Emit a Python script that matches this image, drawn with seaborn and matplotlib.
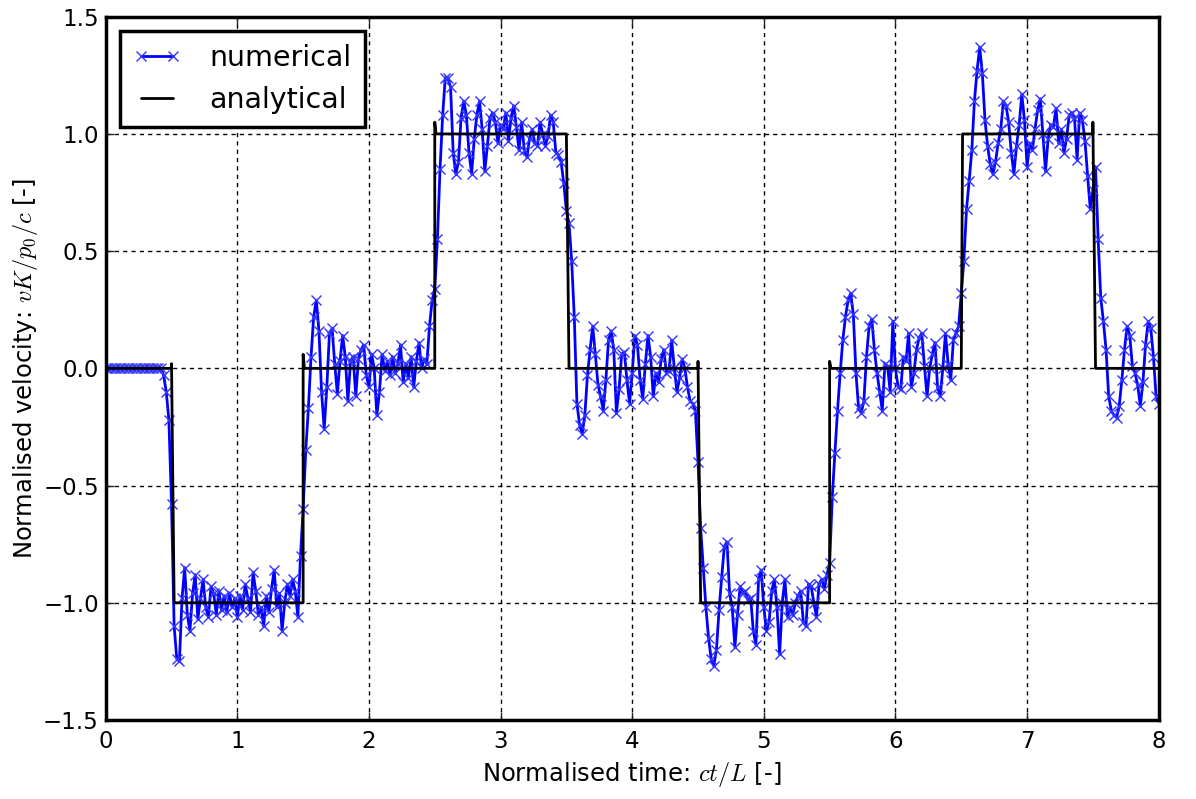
import numpy as np
from matplotlib import pyplot as plt
import seaborn as sns

sns.set_style("ticks")
plt.rcParams["font.family"] = "DejaVu Sans"
plt.rcParams["mathtext.fontset"] = "cm"

# numerical velocity, sampled every 0.02 in ct/L, one list per unit of time
dt = 0.02
vel_0 = [0.0] * 22 + [
    -0.03, -0.10, -0.22, -0.58, -1.10, -1.24, -1.25, -0.98, -0.85, -1.05,
    -1.12, -0.96, -0.88, -1.07, -0.98, -0.90, -1.02, -1.06, -0.93, -0.96,
    -1.05, -0.95, -1.03, -0.97, -1.04, -0.96, -1.02, -0.98,
]
vel_1 = [
    -1.06, -0.97, -1.03, -0.92, -0.98, -1.04, -0.87, -0.95, -1.05, -1.02,
    -1.10, -0.97, -1.04, -0.94, -0.86, -1.02, -0.96, -1.12, -1.00, -0.92,
    -0.97, -0.90, -0.95, -1.06, -0.80, -0.60, -0.35, -0.17, 0.05, 0.22,
    0.29, 0.16, -0.10, -0.26, -0.08, 0.15, 0.17, 0.02, -0.11, 0.03,
    0.14, 0.05, -0.14, 0.03, 0.05, -0.12, 0.04, 0.08, 0.10, -0.03,
]
vel_2 = [
    -0.08, 0.06, 0.00, -0.20, -0.10, 0.06, -0.01, 0.03, -0.03, 0.05,
    -0.02, 0.02, 0.10, -0.06, 0.02, -0.04, 0.05, -0.08, 0.03, 0.11,
    0.00, 0.04, 0.02, 0.18, 0.29, 0.34, 0.55, 0.85, 1.08, 1.24,
    1.24, 1.20, 0.92, 0.83, 0.88, 1.07, 1.14, 1.08, 0.92, 0.83,
    0.98, 1.08, 1.14, 1.02, 0.84, 0.95, 1.07, 1.09, 1.05, 0.96,
]
vel_3 = [
    1.04, 1.02, 1.09, 0.97, 1.07, 1.12, 1.03, 0.93, 1.05, 0.93,
    0.90, 0.98, 1.02, 0.96, 0.95, 1.05, 1.00, 0.95, 0.99, 1.08,
    1.05, 0.92, 0.91, 0.88, 0.79, 0.67, 0.62, 0.46, 0.22, -0.15,
    -0.24, -0.28, -0.20, -0.03, 0.08, 0.18, 0.06, -0.07, -0.12, -0.18,
    -0.05, 0.12, 0.16, 0.08, -0.19, -0.09, 0.06, 0.07, -0.05, -0.15,
]
vel_4 = [
    -0.02, 0.14, 0.10, -0.05, -0.13, 0.02, 0.14, 0.05, -0.12, -0.02,
    -0.06, 0.04, 0.08, -0.02, -0.01, 0.12, 0.00, -0.10, -0.04, 0.04,
    0.00, -0.08, -0.14, -0.15, -0.18, -0.40, -0.68, -0.85, -1.02, -1.15,
    -1.24, -1.27, -1.20, -1.03, -0.89, -0.76, -0.74, -0.96, -1.02, -1.19,
    -1.05, -0.93, -0.96, -0.95, -0.99, -0.98, -1.12, -1.18, -0.90, -0.86,
]
vel_5 = [
    -1.02, -1.12, -1.08, -0.95, -0.90, -1.02, -1.22, -1.00, -0.90, -1.06,
    -1.02, -1.05, -1.00, -0.97, -0.95, -1.08, -1.10, -0.92, -0.93, -1.00,
    -1.06, -0.92, -0.90, -0.94, -0.88, -0.83, -0.55, -0.36, -0.18, -0.02,
    0.12, 0.22, 0.29, 0.32, 0.23, -0.02, -0.17, -0.19, -0.14, 0.05,
    0.18, 0.21, 0.08, -0.02, -0.10, -0.18, 0.02, 0.01, -0.10, 0.20,
]
vel_6 = [
    0.00, -0.08, -0.09, 0.05, 0.03, 0.15, -0.08, -0.02, 0.08, 0.13,
    0.15, 0.01, -0.12, 0.00, 0.06, 0.11, -0.08, -0.12, 0.00, 0.15,
    0.02, -0.05, 0.12, 0.15, 0.18, 0.32, 0.46, 0.68, 0.80, 0.93,
    1.14, 1.27, 1.37, 1.26, 1.06, 0.95, 0.87, 0.83, 0.88, 0.96,
    1.02, 1.14, 1.12, 1.05, 0.92, 0.83, 0.95, 1.04, 1.17, 1.06,
]
vel_7 = [
    0.86, 0.96, 0.93, 1.02, 1.10, 1.15, 1.00, 0.84, 0.98, 1.04,
    1.03, 1.11, 0.96, 1.02, 0.92, 0.98, 1.08, 1.09, 1.07, 0.89,
    1.09, 1.06, 0.97, 0.82, 0.68, 0.76, 0.86, 0.55, 0.30, 0.20,
    0.08, -0.12, -0.18, -0.20, -0.21, -0.16, -0.05, 0.08, 0.18, 0.14,
    0.01, -0.02, -0.07, -0.16, -0.06, 0.10, 0.20, 0.17, 0.05, -0.12,
    -0.15,
]

# analytical solution: square wave with small overshoots at the jumps
ana_t = [0, 0.5, 0.5, 0.52, 1.5, 1.5, 1.51, 2.5, 2.5, 2.51, 3.5, 3.52,
         4.5, 4.5, 4.52, 5.5, 5.5, 5.51, 6.5, 6.51, 7.5, 7.5, 7.52, 8]
ana_v = [0, 0, 0.02, -1, -1, 0.06, 0, 0, 1.05, 1, 1, 0,
         0, 0.03, -1, -1, 0.03, 0, 0, 1, 1, 1.05, 0, 0]

vel = vel_0 + vel_1 + vel_2 + vel_3 + vel_4 + vel_5 + vel_6 + vel_7
t = np.arange(len(vel)) * dt

fig = plt.figure(figsize=(11.96, 7.99), dpi=100)
ax = fig.add_axes([105.7 / 1196, 79 / 799, 1053 / 1196, 703.3 / 799])

sns.lineplot(x=t, y=vel, ax=ax, color="#0000ff", linewidth=2, marker="x",
             markersize=7, markeredgewidth=1, markeredgecolor="#3333ff",
             estimator=None, sort=False, label="numerical")
sns.lineplot(x=ana_t, y=ana_v, ax=ax, color="black", linewidth=2,
             estimator=None, sort=False, label="analytical")

ax.set_xlim(0, 8)
ax.set_ylim(-1.5, 1.5)
ax.set_xticks(range(0, 9))
ax.set_yticks([-1.5, -1.0, -0.5, 0.0, 0.5, 1.0, 1.5])
ax.grid(True, color="black", linestyle=(0, (3, 3)), linewidth=1)
ax.tick_params(direction="in", length=6, width=1, top=True, right=True,
               labelsize=16.5, labelcolor="black")
ax.tick_params(axis="x", pad=7)
ax.tick_params(axis="y", pad=5)
for side in ax.spines.values():
    side.set_linewidth(2.5)
    side.set_color("black")

ax.set_xlabel("Normalised time: $ct/L$ [-]", fontsize=17.5, labelpad=5,
              color="black")
ax.set_ylabel("Normalised velocity: $vK/p_0/c$ [-]", fontsize=17.5,
              labelpad=2, color="black")

leg = ax.legend(loc="upper left", fontsize=20.5, numpoints=2, fancybox=False,
                frameon=True, handlelength=1.7, handletextpad=1.0,
                borderaxespad=0.5, borderpad=0.45, labelspacing=0.5)
leg.get_frame().set_edgecolor("black")
leg.get_frame().set_linewidth(2.5)
leg.get_frame().set_alpha(1)
for txt in leg.get_texts():
    txt.set_color("black")

plt.savefig("out.png", dpi=100)
plt.close()
